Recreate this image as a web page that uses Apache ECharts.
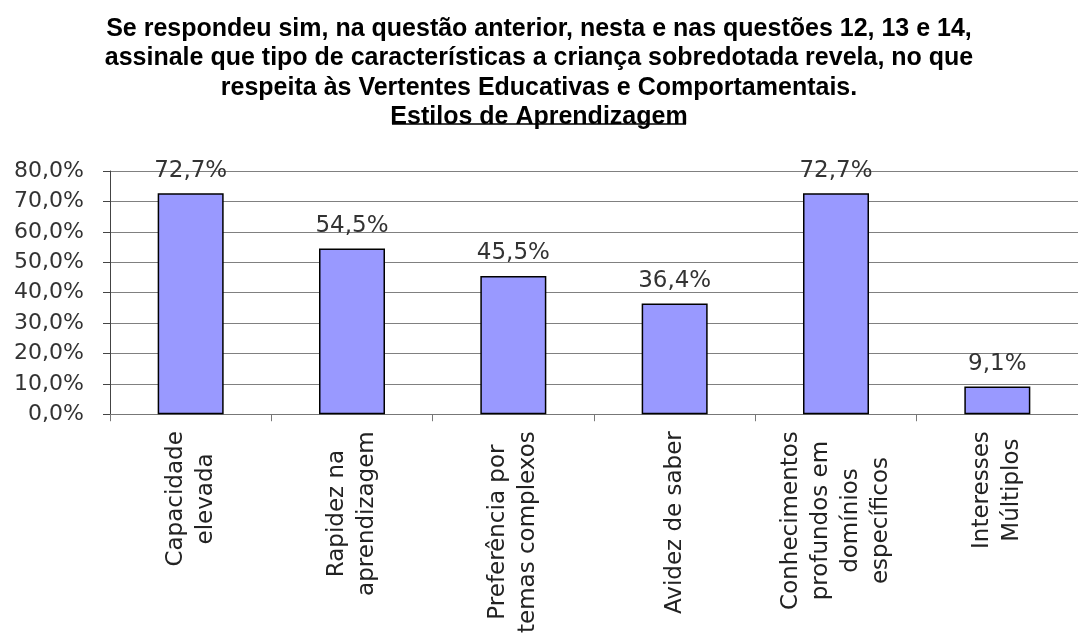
<!DOCTYPE html>
<html>
<head>
<meta charset="utf-8">
<script src="https://cdn.jsdelivr.net/npm/echarts@6/dist/echarts.min.js"></script>
<style>
  html, body { margin: 0; padding: 0; background: #fff; }
  #chart { width: 1078px; height: 636px; }
</style>
</head>
<body>
<div id="chart"></div>
<script>
// categorias (com quebras de linha como no original)
var categorias = [
    'Capacidade\nelevada',
    'Rapidez na\naprendizagem',
    'Preferência por\ntemas complexos',
    'Avidez de saber',
    'Conhecimentos\nprofundos em\ndomínios\nespecíficos',
    'Interesses\nMúltiplos'
];
var valores = [72.7, 54.5, 45.5, 36.4, 72.7, 9.1];
var tituloLinhas = [
    'Se respondeu sim, na questão anterior, nesta e nas questões 12, 13 e 14,',
    'assinale que tipo de características a criança sobredotada revela, no que',
    'respeita às Vertentes Educativas e Comportamentais.',
    'Estilos de Aprendizagem'
];

function pct(v){
    return v.toFixed(1).replace('.', ',') + '%';
}

var chart = echarts.init(document.getElementById('chart'));

var option = {
    backgroundColor: '#ffffff',
    animation: false,
    title: {
        text: tituloLinhas.join('\n'),
        left: 'center',
        top: 9,
        textStyle: {
            fontFamily: '"Liberation Sans", Arial, sans-serif',
            fontWeight: 'bold',
            fontSize: 25,
            lineHeight: 29.5,
            color: '#000'
        }
    },
    grid: {
        left: 110,
        width: 976,
        top: 171,
        bottom: 220,
        containLabel: false
    },
    xAxis: {
        type: 'category',
        data: categorias,
        axisLine: { lineStyle: { color: '#777', width: 1 } },
        axisTick: { show: true, length: 7, lineStyle: { color: '#777' } },
        axisLabel: {
            interval: 0,
            rotate: 90,
            margin: 17,
            fontFamily: '"DejaVu Sans", sans-serif',
            fontSize: 23,
            lineHeight: 30,
            color: '#222',
            formatter: function(v){
                return v.split('\n').map(function(s){ return '{c|' + s + '}'; }).join('\n');
            },
            rich: {
                c: {
                    align: 'center',
                    fontFamily: '"DejaVu Sans", sans-serif',
                    fontSize: 23,
                    lineHeight: 30,
                    color: '#222'
                }
            }
        }
    },
    yAxis: {
        type: 'value',
        min: 0,
        max: 80,
        interval: 10,
        axisLine: { show: true, lineStyle: { color: '#444', width: 1 } },
        axisTick: { show: true, length: 7, lineStyle: { color: '#444' } },
        splitLine: { lineStyle: { color: '#808080', width: 1 } },
        axisLabel: {
            margin: 26,
            fontFamily: '"DejaVu Sans", sans-serif',
            fontSize: 22,
            color: '#333',
            formatter: function(v){ return pct(v); }
        }
    },
    series: [
        {
            type: 'bar',
            data: valores,
            barWidth: 66,
            itemStyle: {
                color: '#9999FF',
                borderColor: '#000',
                borderWidth: 1.5
            },
            label: {
                show: true,
                position: 'top',
                distance: 11,
                fontFamily: '"DejaVu Sans", sans-serif',
                fontSize: 23,
                color: '#333',
                formatter: function(p){ return pct(p.value); }
            }
        }
    ],
    graphic: [
        {
            type: 'line',
            shape: { x1: 392, y1: 124, x2: 686, y2: 124 },
            style: { stroke: '#000', lineWidth: 1.5 }
        }
    ]
};

chart.setOption(option);
</script>
</body>
</html>
